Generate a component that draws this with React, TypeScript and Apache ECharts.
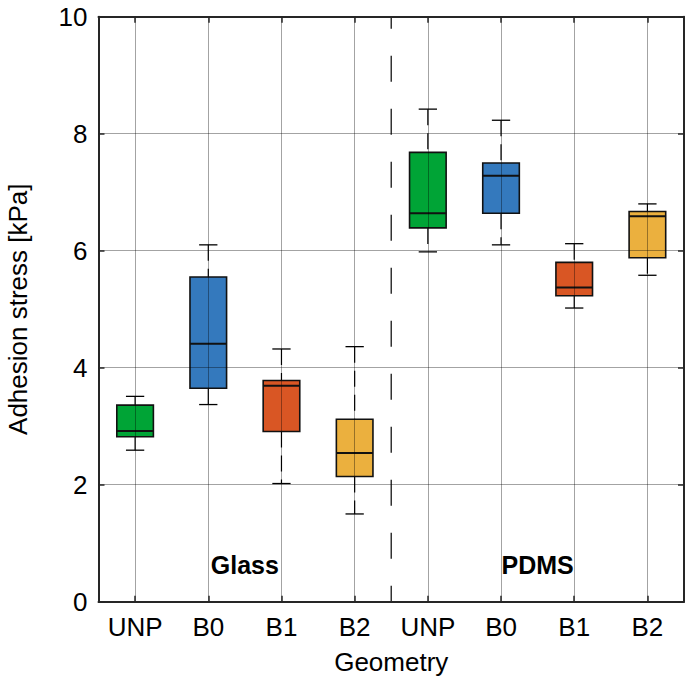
import React, { useEffect, useRef } from 'react';
import * as echarts from 'echarts';

const categories = ['UNP', 'B0', 'B1', 'B2', 'UNP', 'B0', 'B1', 'B2'];
const whiskerLow = [2.59, 3.37, 2.02, 1.5, 5.98, 6.1, 5.02, 5.58];
const boxLow = [2.82, 3.65, 2.91, 2.14, 6.39, 6.64, 5.23, 5.88];
const medians = [2.92, 4.41, 3.69, 2.54, 6.64, 7.28, 5.37, 6.59];
const boxHigh = [3.36, 5.55, 3.78, 3.12, 7.68, 7.5, 5.8, 6.67];
const whiskerHigh = [3.51, 6.1, 4.32, 4.36, 8.42, 8.23, 6.12, 6.8];
const boxColors = ['#00A436', '#3479BD', '#D95624', '#EBB03E', '#00A436', '#3479BD', '#D95624', '#EBB03E'];

const yMin = 0;
const yMax = 10;
const yInterval = 2;

const groupNames = ['Glass', 'PDMS'];
const groupFrom = [1, 5];
const groupTo = [2, 6];
const groupLabelY = [0.63, 0.63];

const separatorLeft = [3];
const separatorRight = [4];

const FONT = "'Liberation Sans', Arial, sans-serif";
const AXIS_COLOR = '#262626';

export default function App() {
  const ref = useRef<HTMLDivElement>(null);

  useEffect(() => {
    if (!ref.current) return;
    const chart = echarts.init(ref.current, undefined, { renderer: 'svg' });

    const boxData = categories.map((_, i) => [i, whiskerLow[i], boxLow[i], medians[i], boxHigh[i], whiskerHigh[i]]);
    const sepData = separatorLeft.map((l, i) => [l, separatorRight[i]]);
    const groupData = groupNames.map((_, i) => [groupFrom[i], groupTo[i], groupLabelY[i]]);

    const axisLine = { show: true, onZero: false, lineStyle: { color: AXIS_COLOR, width: 2 } };
    const axisTick = { show: true, inside: true, length: 6, lineStyle: { color: AXIS_COLOR, width: 1.5 } };

    chart.setOption({
      animation: false,
      textStyle: { fontFamily: FONT },
      grid: { left: 98.5, right: 1, top: 16.7, bottom: 83.3, containLabel: false, outerBoundsMode: 'none' },
      xAxis: [
        {
          type: 'category',
          data: categories,
          boundaryGap: true,
          z: 5,
          axisLine,
          axisTick: { ...axisTick, alignWithLabel: true },
          axisLabel: { fontSize: 26, color: '#000', margin: 12, fontFamily: FONT },
          splitLine: { show: true, alignWithLabel: true, lineStyle: { color: 'rgba(0,0,0,0.36)', width: 1 } },
          name: 'Geometry',
          nameLocation: 'middle',
          nameGap: 47,
          nameTextStyle: { fontSize: 26, color: '#000', fontFamily: FONT },
        },
        {
          type: 'category',
          data: categories,
          position: 'top',
          boundaryGap: true,
          z: 5,
          axisLine,
          axisTick: { ...axisTick, alignWithLabel: true },
          axisLabel: { show: false },
          splitLine: { show: false },
        },
      ],
      yAxis: [
        {
          type: 'value',
          min: yMin,
          max: yMax,
          interval: yInterval,
          z: 5,
          axisLine,
          axisTick,
          axisLabel: { fontSize: 26, color: '#000', margin: 11, fontFamily: FONT },
          splitLine: { show: true, lineStyle: { color: 'rgba(0,0,0,0.36)', width: 1 } },
          name: 'Adhesion stress [kPa]',
          nameLocation: 'middle',
          nameGap: 68,
          nameTextStyle: { fontSize: 26, color: '#000', fontFamily: FONT },
        },
        {
          type: 'value',
          min: yMin,
          max: yMax,
          interval: yInterval,
          position: 'right',
          z: 5,
          axisLine,
          axisTick,
          axisLabel: { show: false },
          splitLine: { show: false },
        },
      ],
      series: [
        {
          type: 'custom',
          xAxisIndex: 0,
          yAxisIndex: 0,
          z: 2,
          data: boxData,
          encode: { x: 0, y: [1, 2, 3, 4, 5] },
          renderItem: (params: any, api: any) => {
            const i = api.value(0);
            const x = api.coord([i, 0])[0];
            const band = api.size([1, 0])[0];
            const bw = band * 0.5;
            const cw = band * 0.25;
            const yWL = api.coord([i, api.value(1)])[1];
            const yBL = api.coord([i, api.value(2)])[1];
            const yMed = api.coord([i, api.value(3)])[1];
            const yBH = api.coord([i, api.value(4)])[1];
            const yWH = api.coord([i, api.value(5)])[1];
            const whiskerStyle = { stroke: '#000', lineWidth: 1.2, lineDash: [16, 8] };
            const capStyle = { stroke: '#000', lineWidth: 1.3 };
            return {
              type: 'group',
              children: [
                { type: 'line', shape: { x1: x, y1: yWH, x2: x, y2: yBH }, style: whiskerStyle },
                { type: 'line', shape: { x1: x, y1: yBL, x2: x, y2: yWL }, style: whiskerStyle },
                { type: 'line', shape: { x1: x - cw / 2, y1: yWH, x2: x + cw / 2, y2: yWH }, style: capStyle },
                { type: 'line', shape: { x1: x - cw / 2, y1: yWL, x2: x + cw / 2, y2: yWL }, style: capStyle },
                {
                  type: 'rect',
                  shape: { x: x - bw / 2, y: yBH, width: bw, height: yBL - yBH },
                  style: { fill: boxColors[params.dataIndex], stroke: '#111', lineWidth: 1.6 },
                },
                { type: 'line', shape: { x1: x - bw / 2, y1: yMed, x2: x + bw / 2, y2: yMed }, style: { stroke: '#111', lineWidth: 2 } },
              ],
            };
          },
        },
        {
          type: 'custom',
          xAxisIndex: 0,
          yAxisIndex: 0,
          z: 3,
          data: sepData,
          encode: { x: [0, 1] },
          renderItem: (params: any, api: any) => {
            const xa = api.coord([api.value(0), yMin])[0];
            const xb = api.coord([api.value(1), yMin])[0];
            const x = (xa + xb) / 2;
            const y0 = api.coord([api.value(0), yMin])[1];
            const y1 = api.coord([api.value(0), yMax])[1];
            return {
              type: 'line',
              shape: { x1: x, y1: y1, x2: x, y2: y0 },
              style: { stroke: '#333', lineWidth: 1.5, lineDash: [26, 27], lineDashOffset: 14 },
            };
          },
        },
        {
          type: 'custom',
          xAxisIndex: 0,
          yAxisIndex: 0,
          z: 3,
          data: groupData,
          encode: { x: [0, 1], y: 2 },
          renderItem: (params: any, api: any) => {
            const xa = api.coord([api.value(0), api.value(2)]);
            const xb = api.coord([api.value(1), api.value(2)]);
            return {
              type: 'text',
              x: (xa[0] + xb[0]) / 2,
              y: xa[1],
              style: {
                text: groupNames[params.dataIndex],
                font: `bold 25px ${FONT}`,
                fill: '#000',
                align: 'center',
                verticalAlign: 'middle',
              },
            };
          },
        },
      ],
    });

    return () => chart.dispose();
  }, []);

  return <div ref={ref} style={{ position: 'fixed', left: 0, top: 0, width: 685, height: 685, background: '#fff' }} />;
}
